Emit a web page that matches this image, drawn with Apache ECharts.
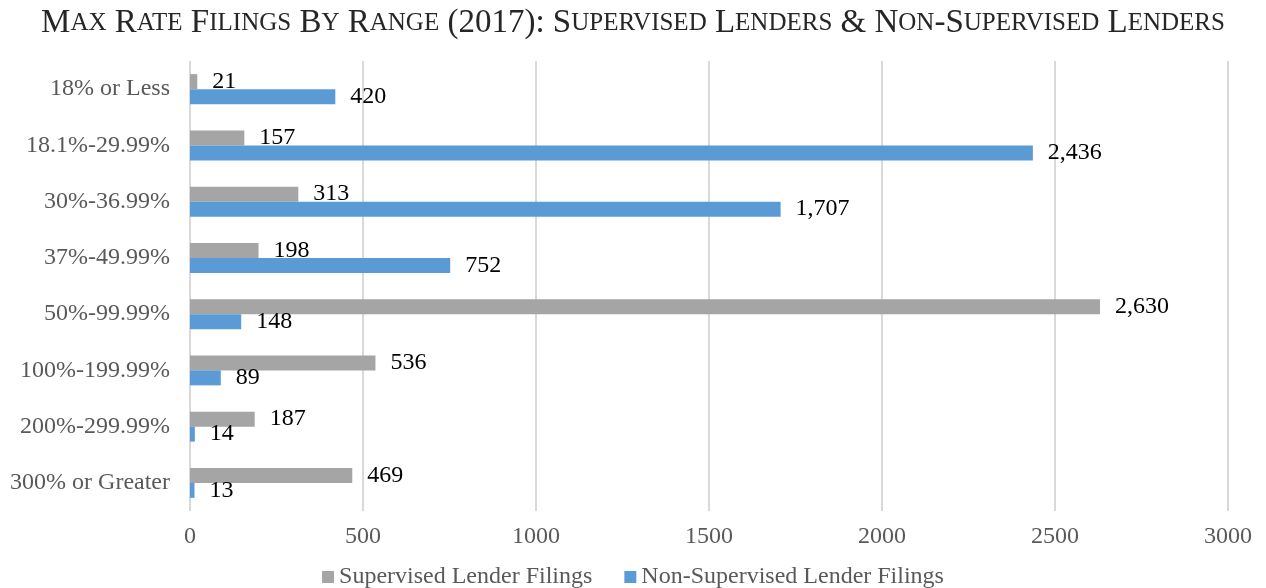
<!DOCTYPE html>
<html>
<head>
<meta charset="utf-8">
<script src="https://cdn.jsdelivr.net/npm/echarts@6/dist/echarts.min.js"></script>
<style>
  html, body { margin: 0; padding: 0; background: #fff; }
  #chart { width: 1266px; height: 588px; }
</style>
</head>
<body>
<div id="chart"></div>
<script>
// categories top to bottom
const ranges = ['18% or Less', '18.1%-29.99%', '30%-36.99%', '37%-49.99%', '50%-99.99%', '100%-199.99%', '200%-299.99%', '300% or Greater']
const supervised = [21, 157, 313, 198, 2630, 536, 187, 469]
const nonSupervised = [420, 2436, 1707, 752, 148, 89, 14, 13]
const seriesNames = ['Supervised Lender Filings', 'Non-Supervised Lender Filings']
const xTicks = { min: 0, max: 3000, interval: 500 }

const font = '"Liberation Serif", "DejaVu Serif", serif'

// title in small caps via rich text: capitals big, the rest uppercase small
const titleText = 'Max Rate Filings By Range (2017): Supervised Lenders & Non-Supervised Lenders'
const smallCaps = (s) => {
  let out = ''
  let buf = ''
  let mode = null
  const flush = () => { if (buf) out += '{' + mode + '|' + buf + '}'; buf = '' }
  for (const ch of s) {
    const m = (ch >= 'a' && ch <= 'z') ? 's' : 'b'
    if (m !== mode) { flush(); mode = m }
    buf += m === 's' ? ch.toUpperCase() : ch
  }
  flush()
  return out
}

const chart = echarts.init(document.getElementById('chart'))
const fmt = (p) => p.value.toLocaleString('en-US')

chart.setOption({
  animation: false,
  title: {
    text: smallCaps(titleText),
    left: 'center',
    top: 2,
    textStyle: {
      rich: {
        b: { fontFamily: font, fontSize: 33, fontWeight: 'normal', color: '#262626' },
        s: { fontFamily: font, fontSize: 25, fontWeight: 'normal', color: '#262626' }
      }
    }
  },
  legend: {
    data: seriesNames,
    top: 560,
    left: 'center',
    icon: 'rect',
    itemWidth: 12,
    itemHeight: 12,
    itemGap: 32,
    textStyle: { fontFamily: font, fontSize: 24, color: '#595959' }
  },
  grid: { left: 190, right: 38, top: 61, bottom: 77 },
  xAxis: {
    type: 'value',
    min: xTicks.min,
    max: xTicks.max,
    interval: xTicks.interval,
    axisLine: { show: false },
    axisTick: { show: false },
    axisLabel: { fontFamily: font, fontSize: 24, color: '#595959', margin: 14, formatter: (v) => String(v) },
    splitLine: { lineStyle: { color: '#d9d9d9', width: 2 } }
  },
  yAxis: {
    type: 'category',
    data: ranges,
    inverse: true,
    axisLine: { show: false },
    axisTick: { show: false },
    axisLabel: { fontFamily: font, fontSize: 24, color: '#595959', margin: 20 }
  },
  series: [
    {
      name: seriesNames[0],
      type: 'bar',
      data: supervised,
      barWidth: 15,
      barGap: '0%',
      itemStyle: { color: '#a5a5a5' },
      label: { show: true, position: 'right', distance: 15, formatter: fmt, fontFamily: font, fontSize: 24, color: '#000' }
    },
    {
      name: seriesNames[1],
      type: 'bar',
      data: nonSupervised,
      barWidth: 15,
      barGap: '0%',
      itemStyle: { color: '#5b9bd5' },
      label: { show: true, position: 'right', distance: 15, formatter: fmt, fontFamily: font, fontSize: 24, color: '#000' }
    }
  ]
})
</script>
</body>
</html>
